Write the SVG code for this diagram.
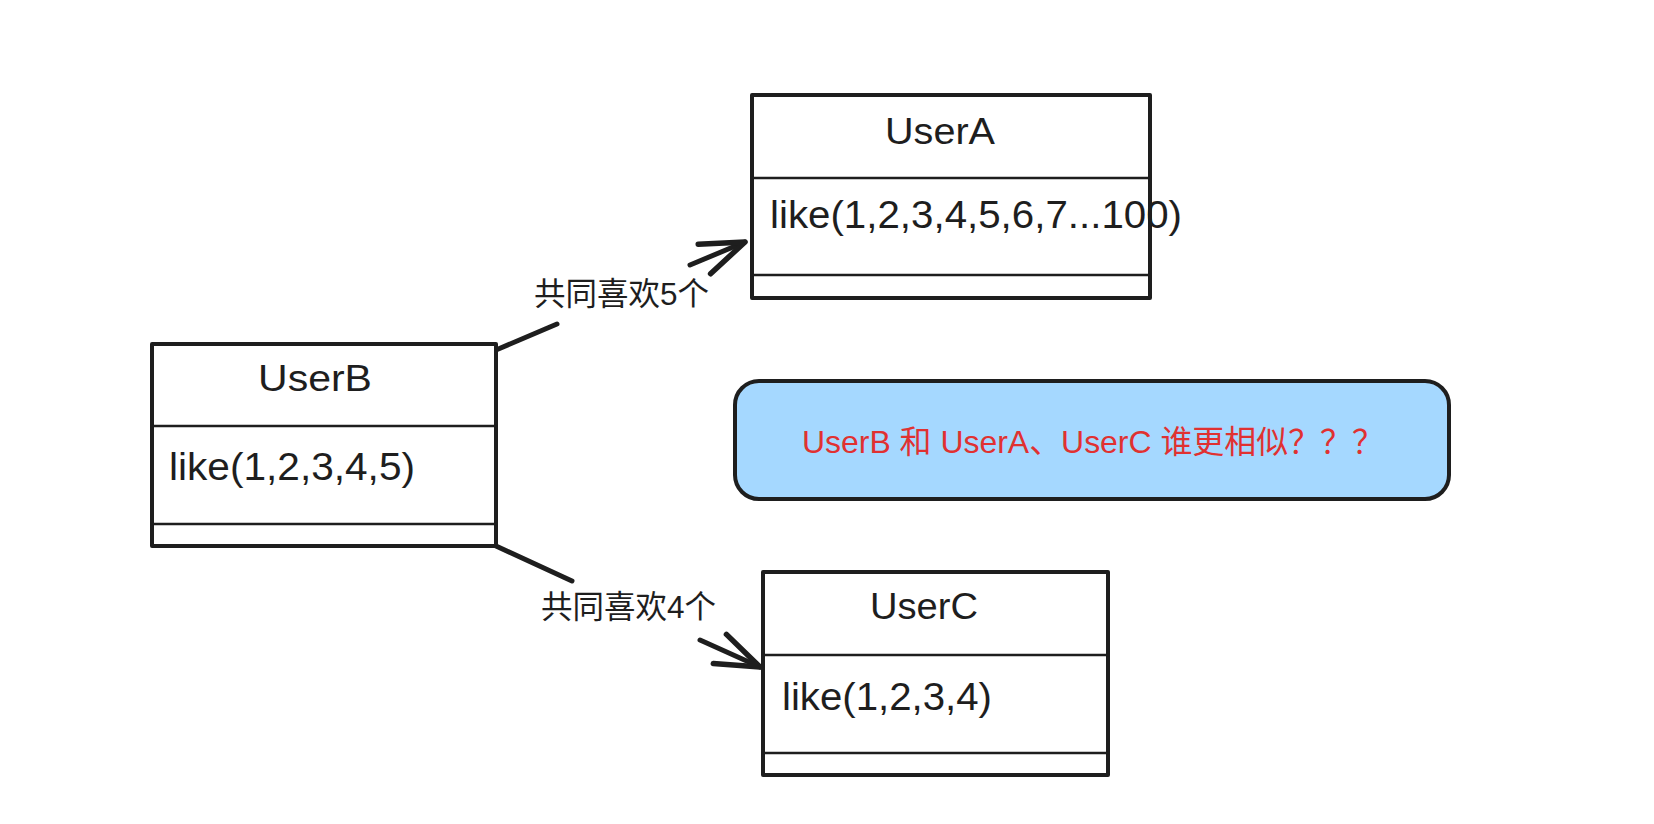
<svg xmlns="http://www.w3.org/2000/svg" width="1654" height="824" viewBox="0 0 1654 824">
  <style>
    .box { fill: #ffffff; stroke: #1e1e1e; stroke-width: 4; stroke-linejoin: round; }
    .sep { stroke: #1e1e1e; stroke-width: 2.5; fill: none; }
    .title { font-family: "Liberation Sans", "Noto Sans", sans-serif; font-size: 36px; fill: #1e1e1e; text-anchor: middle; }
    .like { font-family: "Liberation Sans", "Noto Sans", sans-serif; font-size: 38px; fill: #1e1e1e; }
    .edge { fill: none; stroke: #1e1e1e; stroke-width: 5; stroke-linecap: round; stroke-linejoin: round; }
    .elabel { font-family: "Liberation Sans", "Noto Sans CJK SC", sans-serif; font-size: 32px; fill: #1e1e1e; }
    .note { fill: #a5d8ff; stroke: #1e1e1e; stroke-width: 4; }
    .notetext { font-family: "Liberation Sans", "Noto Sans CJK SC", sans-serif; font-size: 32px; fill: #e03131; }
  </style>
  <defs>
    <marker id="arrow" markerUnits="userSpaceOnUse" viewBox="-50 -30 60 60" markerWidth="60" markerHeight="60" refX="0" refY="0" orient="auto" overflow="visible">
      <path d="M-44,-16 L0,0 L-44,16" fill="none" stroke="#1e1e1e" stroke-width="5.5" stroke-linecap="round" stroke-linejoin="round"/>
    </marker>
  </defs>
  <rect width="1654" height="824" fill="#ffffff"/>

  <g id="connectors">
    <g id="edge-B-A">
      <path class="edge" d="M496,350 L557,324 M690,265 L745,242" marker-end="url(#arrow)"/>
      <text class="elabel" x="534" y="305" textLength="175" lengthAdjust="spacingAndGlyphs">共同喜欢5个</text>
    </g>
    <g id="edge-B-C">
      <path class="edge" d="M496,546 L572,581 M700,640 L760,667" marker-end="url(#arrow)"/>
      <text class="elabel" x="541" y="618" textLength="175" lengthAdjust="spacingAndGlyphs">共同喜欢4个</text>
    </g>
  </g>

  <g id="node-userA">
    <rect class="box" x="752" y="95" width="398" height="203"/>
    <line class="sep" x1="752" y1="178" x2="1150" y2="178"/>
    <line class="sep" x1="752" y1="275" x2="1150" y2="275"/>
    <text class="title" x="940" y="144" textLength="110" lengthAdjust="spacingAndGlyphs">UserA</text>
    <text class="like" x="770" y="228" textLength="412" lengthAdjust="spacingAndGlyphs">like(1,2,3,4,5,6,7...100)</text>
  </g>

  <g id="node-userB">
    <rect class="box" x="152" y="344" width="344" height="202"/>
    <line class="sep" x1="152" y1="426" x2="496" y2="426"/>
    <line class="sep" x1="152" y1="524" x2="496" y2="524"/>
    <text class="title" x="315" y="391" textLength="114" lengthAdjust="spacingAndGlyphs">UserB</text>
    <text class="like" x="169" y="480" textLength="246" lengthAdjust="spacingAndGlyphs">like(1,2,3,4,5)</text>
  </g>

  <g id="node-userC">
    <rect class="box" x="763" y="572" width="345" height="203"/>
    <line class="sep" x1="763" y1="655" x2="1108" y2="655"/>
    <line class="sep" x1="763" y1="753" x2="1108" y2="753"/>
    <text class="title" x="924" y="619" textLength="108" lengthAdjust="spacingAndGlyphs">UserC</text>
    <text class="like" x="782" y="710" textLength="210" lengthAdjust="spacingAndGlyphs">like(1,2,3,4)</text>
  </g>

  <g id="node-question">
    <rect class="note" x="735" y="381" width="714" height="118" rx="24" ry="24"/>
    <text class="notetext" x="802" y="453" textLength="582" lengthAdjust="spacingAndGlyphs">UserB 和 UserA、UserC 谁更相似？？？</text>
  </g>
</svg>
